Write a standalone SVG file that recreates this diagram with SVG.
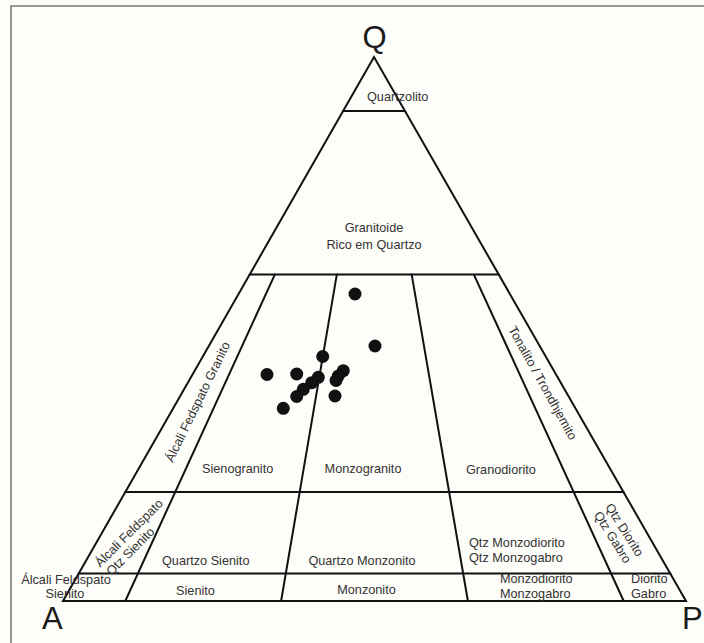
<svg xmlns="http://www.w3.org/2000/svg" width="704" height="643" viewBox="0 0 704 643">
<style>
.ln{stroke:#111;stroke-width:2;fill:none;stroke-linecap:round}
.lb{font-family:"Liberation Sans",Arial,sans-serif;font-size:12.7px;fill:#333}
.big{font-family:"Liberation Sans",Arial,sans-serif;font-size:31px;fill:#1a1a1a}
.dot{fill:#111}
</style>
<rect x="0" y="0" width="704" height="643" fill="#fdfdf9"/>
<g id="frame"><path d="M11 643 V6 H704" stroke="#7a7a7a" stroke-width="1.6" fill="none"/></g>
<g id="connectors">
<path class="ln" d="M63 601 H686 L374 57 Z"/>
<path class="ln" d="M343 111 H405"/>
<path class="ln" d="M249.6 274.6 H498.8"/>
<path class="ln" d="M125.2 492 H623.6"/>
<path class="ln" d="M78.6 573.5 H670.4"/>
<path class="ln" d="M125.3 601 L274.8 274.6"/>
<path class="ln" d="M281.1 601 L336.8 274.6"/>
<path class="ln" d="M467.9 601 L411.7 274.6"/>
<path class="ln" d="M623.7 601 L473.9 274.6"/>
</g>
<g id="vertex-Q"><text class="big" x="374.5" y="48" text-anchor="middle" font-size="30">Q</text></g>
<g id="vertex-A"><text class="big" x="42" y="629">A</text></g>
<g id="vertex-P"><text class="big" x="682" y="629">P</text></g>
<g id="quartzolito"><text class="lb" x="367" y="101">Quartzolito</text></g>
<g id="granitoide"><text class="lb" text-anchor="middle" x="374" y="232">Granitoide</text><text class="lb" text-anchor="middle" x="374" y="249">Rico em Quartzo</text></g>
<g id="alcali-granito" transform="translate(197.5 401.7) rotate(-64)"><text class="lb" text-anchor="middle" x="0" y="4.5">Álcali Fedspato Granito</text></g>
<g id="tonalito" transform="translate(543 383) rotate(61)"><text class="lb" text-anchor="middle" x="0" y="4.5">Tonalito / Trondhjemito</text></g>
<g id="sienogranito"><text class="lb" x="202" y="473">Sienogranito</text></g>
<g id="monzogranito"><text class="lb" text-anchor="middle" x="363" y="473">Monzogranito</text></g>
<g id="granodiorito"><text class="lb" x="466" y="474">Granodiorito</text></g>
<g id="alcali-qtz-sienito" transform="translate(129.5 542) rotate(-45)"><text class="lb" text-anchor="middle" x="6" y="-2.5">Álcali Feldspato</text><text class="lb" text-anchor="middle" x="-6" y="11.5">Qtz Sienito</text></g>
<g id="quartzo-sienito"><text class="lb" x="162" y="565">Quartzo Sienito</text></g>
<g id="quartzo-monzonito"><text class="lb" text-anchor="middle" x="362" y="565">Quartzo Monzonito</text></g>
<g id="qtz-monzodiorito"><text class="lb" x="469" y="547">Qtz Monzodiorito</text><text class="lb" x="469" y="562">Qtz Monzogabro</text></g>
<g id="qtz-diorito" transform="translate(618.8 533.4) rotate(58)"><text class="lb" text-anchor="middle" x="0" y="-2.5">Qtz Diorito</text><text class="lb" text-anchor="middle" x="0" y="11.5">Qtz Gabro</text></g>
<g id="alcali-sienito"><text class="lb" text-anchor="middle" x="66" y="584">Álcali Feldspato</text><text class="lb" text-anchor="middle" x="65" y="598">Sienito</text></g>
<g id="sienito"><text class="lb" text-anchor="middle" x="195.5" y="595">Sienito</text></g>
<g id="monzonito"><text class="lb" text-anchor="middle" x="366.5" y="594">Monzonito</text></g>
<g id="monzodiorito"><text class="lb" x="500" y="583">Monzodiorito</text><text class="lb" x="500" y="598">Monzogabro</text></g>
<g id="diorito"><text class="lb" x="631" y="583">Diorito</text><text class="lb" x="631" y="598">Gabro</text></g>
<g id="samples">
<circle class="dot" cx="355" cy="294" r="6.5"/>
<circle class="dot" cx="375" cy="346" r="6.5"/>
<circle class="dot" cx="322.7" cy="356.5" r="6.5"/>
<circle class="dot" cx="267" cy="374.5" r="6.5"/>
<circle class="dot" cx="296.7" cy="374" r="6.5"/>
<circle class="dot" cx="318.3" cy="377.3" r="6.5"/>
<circle class="dot" cx="311.7" cy="382.7" r="6.5"/>
<circle class="dot" cx="303.3" cy="389.3" r="6.5"/>
<circle class="dot" cx="296.7" cy="396.5" r="6.5"/>
<circle class="dot" cx="283.3" cy="408.3" r="6.5"/>
<circle class="dot" cx="343.3" cy="370.7" r="6.5"/>
<circle class="dot" cx="338.3" cy="376" r="6.5"/>
<circle class="dot" cx="336" cy="380.5" r="6.5"/>
<circle class="dot" cx="335" cy="396" r="6.5"/>
</g>
</svg>
